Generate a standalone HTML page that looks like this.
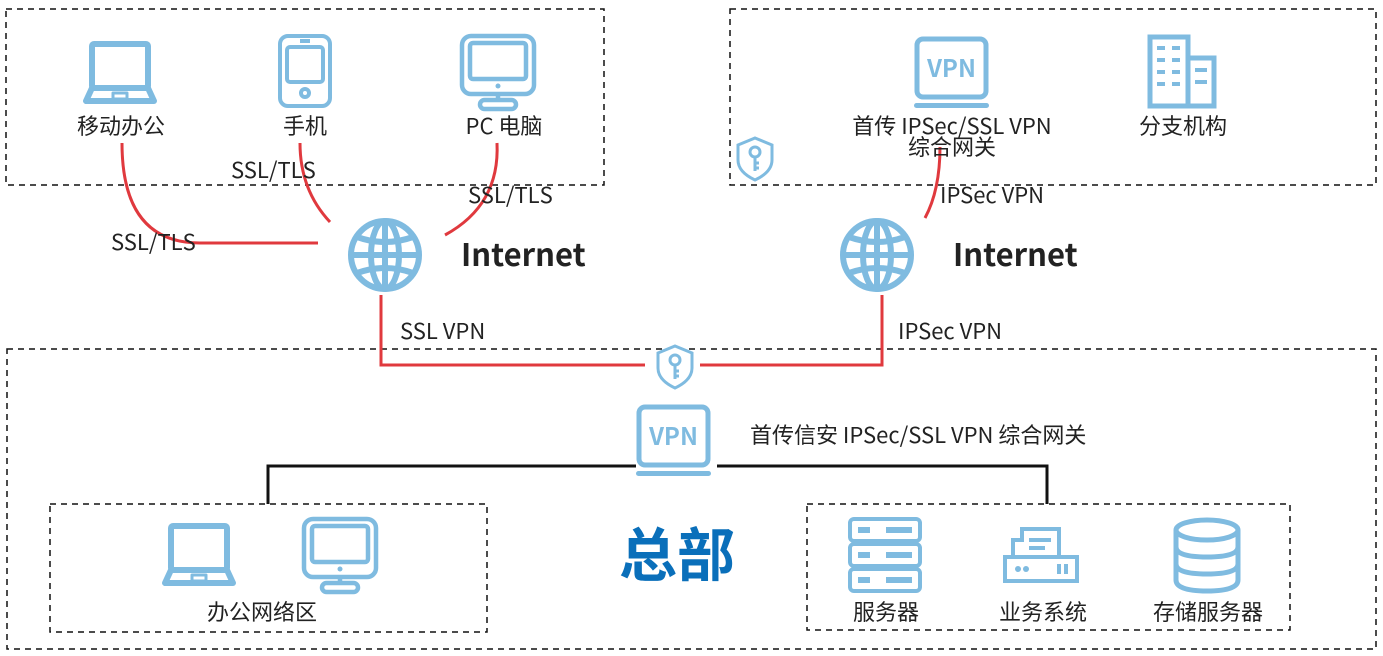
<!DOCTYPE html>
<html><head><meta charset="utf-8"><style>
html,body{margin:0;padding:0;background:#fff;}
svg{display:block;}
text{font-family:"Noto Sans CJK SC","Liberation Sans",sans-serif;fill:#222;}
</style></head><body>
<svg width="1383" height="656" viewBox="0 0 1383 656" xmlns="http://www.w3.org/2000/svg">
<defs>
<g id="laptop" fill="none" stroke="#7fbbe0" stroke-width="6" stroke-linejoin="round">
  <rect x="9" y="3" width="56" height="44" rx="2"/>
  <path d="M9 47 L3 60 H71 L65 47" fill="none"/>
  <rect x="30" y="52" width="14" height="6" stroke-width="3"/>
</g>
<g id="monitor" fill="none" stroke="#7fbbe0" stroke-width="4.5">
  <rect x="2" y="2" width="72" height="58" rx="9"/>
  <rect x="10" y="9" width="56" height="36" rx="3"/>
  <circle cx="38" cy="52" r="2.5" fill="#7fbbe0" stroke="none"/>
  <line x1="38" y1="60" x2="38" y2="66"/>
  <rect x="20" y="66" width="36" height="9" rx="4.5"/>
</g>
<g id="vpn">
  <rect x="3" y="3" width="69" height="58" rx="6" fill="none" stroke="#7fbbe0" stroke-width="5"/>
  <text x="37.5" y="41" text-anchor="middle" font-size="24" font-weight="bold" style="fill:#7fbbe0">VPN</text>
  <rect x="0" y="67" width="75" height="5" rx="2.5" fill="#7fbbe0"/>
</g>
<g id="globe" fill="none" stroke="#7fbbe0" stroke-width="6">
  <circle cx="0" cy="0" r="34"/>
  <ellipse cx="0" cy="0" rx="14" ry="34"/>
  <line x1="0" y1="-34" x2="0" y2="34"/>
  <line x1="-34" y1="0" x2="34" y2="0"/>
  <path d="M-28 -18 Q0 -8 28 -18"/>
  <path d="M-28 18 Q0 8 28 18"/>
</g>
<g id="shield" fill="#fff" stroke="#7fbbe0" stroke-width="3">
  <path d="M0 -20 L17 -13 V2 Q17 14 0 22 Q-17 14 -17 2 V-13 Z"/>
  <circle cx="0" cy="-6" r="5"/>
  <path d="M0 -1 V13 M0 5 H4 M0 10 H4"/>
</g>
</defs>

<g fill="none" stroke="#111" stroke-width="1.5" stroke-dasharray="6,5">
  <rect x="6" y="9" width="598" height="176"/>
  <rect x="730" y="9" width="646" height="176"/>
  <rect x="7" y="349" width="1369" height="300"/>
  <rect x="50" y="504" width="437" height="128"/>
  <rect x="807" y="504" width="483" height="126"/>
</g>

<g fill="none" stroke="#e0393e" stroke-width="3">
  <path d="M122 143 Q122 243 200 243 H318"/>
  <path d="M300 143 Q300 190 330 222"/>
  <path d="M497 143 Q500 205 445 235"/>
  <path d="M381 295 V365 H645"/>
  <path d="M700 365 H882 V295"/>
  <path d="M940 147 Q940 190 925 218"/>
</g>
<g fill="none" stroke="#111" stroke-width="3">
  <path d="M268 504 V466 H636"/>
  <path d="M717 466 H1047 V504"/>
</g>

<use href="#laptop" x="83" y="41"/>
<g fill="none" stroke="#7fbbe0" stroke-width="4">
  <rect x="280" y="36" width="50" height="70" rx="8"/>
  <rect x="287" y="47" width="36" height="35" rx="3"/>
  <circle cx="305" cy="93" r="4"/>
  <line x1="300" y1="41" x2="310" y2="41"/>
</g>
<use href="#monitor" x="460" y="34"/>
<g font-size="22">
<text x="121" y="134" text-anchor="middle">移动办公</text>
<text x="305" y="134" text-anchor="middle">手机</text>
<text x="504" y="134" text-anchor="middle">PC 电脑</text>
<text x="231" y="178">SSL/TLS</text>
<text x="468" y="203">SSL/TLS</text>
<text x="111" y="250">SSL/TLS</text>
<text x="400" y="339">SSL VPN</text>
<text x="898" y="339">IPSec VPN</text>
<text x="940" y="203">IPSec VPN</text>
</g>

<use href="#globe" x="385" y="255"/>
<use href="#globe" x="877" y="255"/>
<text x="461" y="266" font-size="31" font-weight="bold">Internet</text>
<text x="953" y="266" font-size="31" font-weight="bold">Internet</text>

<use href="#vpn" x="914" y="36"/>
<text x="952" y="134" text-anchor="middle" font-size="22">首传 IPSec/SSL VPN</text>
<text x="952" y="155" text-anchor="middle" font-size="22">综合网关</text>
<g fill="none" stroke="#7fbbe0" stroke-width="5">
  <rect x="1150" y="37" width="38" height="69"/>
  <rect x="1188" y="58" width="26" height="48"/>
</g>
<g fill="#7fbbe0">
  <rect x="1157" y="46" width="8" height="4"/><rect x="1172" y="46" width="8" height="4"/>
  <rect x="1157" y="58" width="8" height="4"/><rect x="1172" y="58" width="8" height="4"/>
  <rect x="1157" y="70" width="8" height="4"/><rect x="1172" y="70" width="8" height="4"/>
  <rect x="1157" y="82" width="8" height="4"/><rect x="1172" y="82" width="8" height="4"/>
  <rect x="1195" y="68" width="12" height="4"/><rect x="1195" y="80" width="12" height="4"/>
</g>
<text x="1183" y="134" text-anchor="middle" font-size="22">分支机构</text>
<use href="#shield" x="755" y="158"/>

<use href="#shield" x="675" y="366"/>
<use href="#vpn" x="636" y="404"/>
<text x="750" y="443" font-size="22">首传信安 IPSec/SSL VPN 综合网关</text>
<text x="677" y="576" text-anchor="middle" font-size="58" font-weight="bold" style="fill:#0a6fba">总部</text>

<use href="#laptop" x="162" y="523"/>
<use href="#monitor" x="302" y="517"/>
<text x="262" y="620" text-anchor="middle" font-size="22">办公网络区</text>

<g fill="none" stroke="#7fbbe0" stroke-width="4">
  <rect x="850" y="519" width="70" height="22" rx="4"/>
  <rect x="850" y="544" width="70" height="22" rx="4"/>
  <rect x="850" y="569" width="70" height="22" rx="4"/>
</g>
<g fill="#7fbbe0">
  <rect x="858" y="527" width="12" height="6"/><rect x="886" y="527" width="26" height="6"/>
  <rect x="858" y="552" width="12" height="6"/><rect x="886" y="552" width="26" height="6"/>
  <rect x="858" y="577" width="12" height="6"/><rect x="886" y="577" width="26" height="6"/>
</g>
<text x="886" y="620" text-anchor="middle" font-size="22">服务器</text>
<g fill="#7fbbe0">
  <rect x="1003" y="555" width="76" height="28"/>
  <rect x="1011" y="538" width="16" height="17"/>
  <rect x="1020" y="527" width="41" height="28"/>
</g>
<g fill="#fff">
  <rect x="1007" y="559" width="68" height="20"/>
  <rect x="1024" y="531" width="33" height="24"/>
  <rect x="1015" y="542" width="9" height="13"/>
</g>
<g fill="#7fbbe0">
  <rect x="1029" y="538" width="22" height="4"/><rect x="1029" y="546" width="16" height="4"/>
  <circle cx="1018" cy="569" r="3"/><circle cx="1026" cy="569" r="3"/>
  <rect x="1057" y="564" width="4" height="10"/><rect x="1064" y="564" width="4" height="10"/>
</g>
<text x="1043" y="620" text-anchor="middle" font-size="22">业务系统</text>
<g fill="none" stroke="#7fbbe0" stroke-width="5">
  <ellipse cx="1207" cy="530" rx="31" ry="10"/>
  <path d="M1176 530 V580 Q1176 591 1207 591 Q1238 591 1238 580 V530"/>
  <path d="M1176 547 Q1176 557 1207 557 Q1238 557 1238 547"/>
  <path d="M1176 564 Q1176 574 1207 574 Q1238 574 1238 564"/>
</g>
<text x="1208" y="620" text-anchor="middle" font-size="22">存储服务器</text>
</svg>
</body></html>
